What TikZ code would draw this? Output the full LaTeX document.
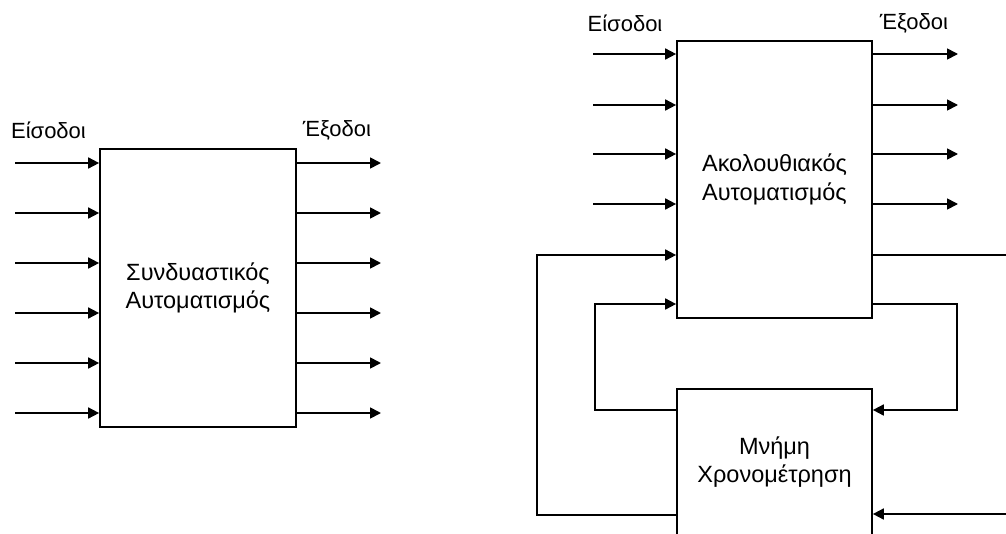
\documentclass[tikz,border=0pt]{standalone}
\usepackage{fontspec}
\setmainfont{Liberation Sans}
\usetikzlibrary{arrows.meta}
\begin{document}
\begin{tikzpicture}[x=1pt,y=-1pt,
  blk/.style={draw,line width=1.7pt,inner sep=0pt,align=center,font=\fontsize{23.5}{28.5}\selectfont},
  lbl/.style={inner sep=0pt,font=\fontsize{22}{26}\selectfont},
  wire/.style={line width=1.7pt},
  arr/.style={wire,-{Triangle[length=11pt,width=11pt]}}]
\useasboundingbox (0,0) rectangle (1006,533);
\clip (0,0) rectangle (1006,533);
% left diagram
\node[blk,minimum width=196pt,minimum height=278pt] (L) at (198,288) {Συνδυαστικός\\Αυτοματισμός};
\node[lbl] (Lin) at (48.5,130) {Είσοδοι};
\node[lbl] (Lout) at (337,130) {Έξοδοι};
\foreach \y in {163,213,263,313,363,413}{
  \draw[arr] (15,\y) -- (L.west |- 0,\y);
  \draw[arr] (L.east |- 0,\y) -- (381,\y);
}
% right diagram
\node[blk,minimum width=195pt,minimum height=277pt] (A) at (774.5,179.5) {Ακολουθιακός\\Αυτοματισμός};
\node[blk,minimum width=195pt,minimum height=146pt] (M) at (774.5,462) {Μνήμη\\Χρονομέτρηση};
\node[lbl] (Rin) at (625,23) {Είσοδοι};
\node[lbl] (Rout) at (914,23) {Έξοδοι};
\foreach \y in {54,105,154,204}{
  \draw[arr] (593,\y) -- (A.west |- 0,\y);
  \draw[arr] (A.east |- 0,\y) -- (958,\y);
}
\coordinate (E1) at (1010,255);
\coordinate (E2) at (1010,514);
\draw[wire] (A.east |- 0,255) -- (E1);
\draw[arr] (E2) -- (M.east |- 0,514);
\draw[arr] (A.east |- 0,304) -- (957,304) -- (957,410) -- (M.east |- 0,410);
\draw[arr] (M.west |- 0,410) -- (595,410) -- (595,304) -- (A.west |- 0,304);
\draw[arr] (M.west |- 0,515) -- (537,515) -- (537,255) -- (A.west |- 0,255);
\end{tikzpicture}
\end{document}
